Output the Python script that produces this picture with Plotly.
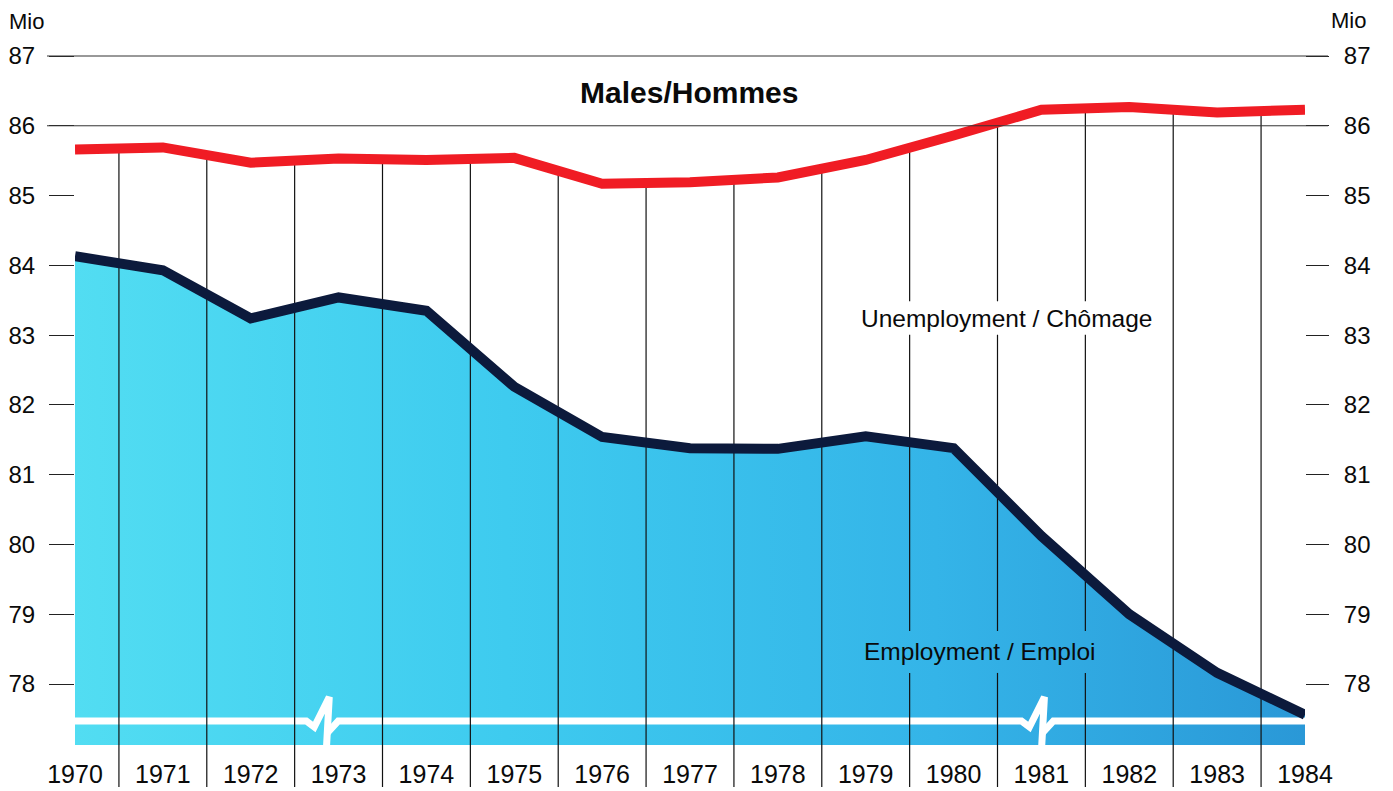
import numpy as np
import plotly.graph_objects as go

# ---------------- data ----------------
years = list(range(1970, 1985))
employment = [84.13, 83.93, 83.24, 83.54, 83.35, 82.26, 81.54, 81.38,
              81.37, 81.55, 81.38, 80.12, 79.00, 78.16, 77.56]
labour_force = [85.66, 85.69, 85.47, 85.53, 85.51, 85.54, 85.17, 85.19,
                85.26, 85.51, 85.86, 86.23, 86.27, 86.19, 86.23]
y_ticks = [78, 79, 80, 81, 82, 83, 84, 85, 86, 87]
year_labels = [str(y) for y in years]
gridline_values = [86, 87]
break_years = [1972.86, 1981.0]      # axis-break symbol centres
break_level = 77.47

title_text = "<b>Males/Hommes</b>"
series_labels = [
    # text, x, y, half-width (years), half-height (value)
    ("Unemployment / Chômage", 1980.60, 83.245, 1.70, 0.24),
    ("Employment / Emploi", 1980.30, 78.459, 1.38, 0.30),
]

# ---------------- geometry helpers ----------------
# the page body has an 8px margin, so the figure is 8px smaller
X_RANGE = [1970, 1984]
Y_RANGE = [77.126, 87.516]
W, H = 1385, 783
ML, MR, MT, MB = 67, 88, 12, 46
plot_w = W - ML - MR
plot_h = H - MT - MB
px_x = (X_RANGE[1] - X_RANGE[0]) / plot_w   # years per pixel
px_y = (Y_RANGE[1] - Y_RANGE[0]) / plot_h   # value per pixel

FONT = "Liberation Sans, Arial, Helvetica, sans-serif"
RED = "#f01c24"
NAVY = "#0c1a3c"
INK = "#0a0a0a"

fig = go.Figure()

# filled employment area with horizontal gradient
fig.add_trace(go.Scatter(
    x=years, y=employment, mode="lines", line=dict(width=0),
    fill="tozeroy",
    fillgradient=dict(type="horizontal",
                      colorscale=[[0, "#52ddf2"], [0.35, "#3ecbef"],
                                  [0.7, "#34b4e8"], [1, "#2a98d7"]]),
    hoverinfo="skip", showlegend=False))

# white axis-break line
bx, by = [X_RANGE[0]], [break_level]
for c in break_years:
    bx += [c - 20 * px_x, c - 12 * px_x, c + 3 * px_x, c]
    by += [break_level, break_level - 6 * px_y, break_level + 24 * px_y,
           break_level - 30 * px_y]
    bx += [None, c + 1 * px_x, c + 12 * px_x]
    by += [None, break_level - 12 * px_y, break_level]
bx.append(X_RANGE[1])
by.append(break_level)
fig.add_trace(go.Scatter(x=bx, y=by, mode="lines",
                         line=dict(color="white", width=7),
                         hoverinfo="skip", showlegend=False))

# vertical separators between years (inside plot)
half_years = [y + 0.5 for y in years[:-1]]
tops = np.interp(half_years, years, labour_force)
vx, vy = [], []
for hx, top in zip(half_years, tops):
    pieces = [(Y_RANGE[0], float(top))]
    for _, lx, ly, hw, hh in series_labels:
        if abs(hx - lx) < hw:
            new = []
            for a, b in pieces:
                if ly + hh <= a or ly - hh >= b:
                    new.append((a, b))
                else:
                    if a < ly - hh:
                        new.append((a, ly - hh))
                    if b > ly + hh:
                        new.append((ly + hh, b))
            pieces = new
    for a, b in pieces:
        vx += [hx, hx, None]
        vy += [a, b, None]
fig.add_trace(go.Scatter(x=vx, y=vy, mode="lines",
                         line=dict(color="#111111", width=1.2),
                         hoverinfo="skip", showlegend=False))

# employment line
fig.add_trace(go.Scatter(x=years, y=employment, mode="lines",
                         line=dict(color=NAVY, width=10),
                         hoverinfo="skip", showlegend=False))
# labour force (employment + unemployment) line
fig.add_trace(go.Scatter(x=years, y=labour_force, mode="lines",
                         line=dict(color=RED, width=10),
                         hoverinfo="skip", showlegend=False))
# invisible trace for the right axis
fig.add_trace(go.Scatter(x=years, y=labour_force, yaxis="y2", mode="lines",
                         opacity=0, hoverinfo="skip", showlegend=False))

shapes = []
for g in gridline_values:
    shapes.append(dict(type="line", xref="paper", yref="y",
                       x0=-28 / plot_w, x1=1 + 23 / plot_w, y0=g, y1=g,
                       line=dict(color="#333333", width=1)))
# separators extending below the plot area
for hx in half_years:
    shapes.append(dict(type="line", xref="x", yref="paper",
                       x0=hx, x1=hx, y0=0, y1=-42 / plot_h,
                       line=dict(color="#111111", width=1.2)))

top_paper = (plot_h + MT) / plot_h
annotations = [
    dict(x=1976.99, y=86.484, xref="x", yref="y", text=title_text,
         showarrow=False, font=dict(size=30, color=INK, family=FONT)),
    dict(x=-68 / plot_w, y=top_paper, xref="paper", yref="paper",
         text="Mio", showarrow=False, xanchor="left", yanchor="top",
         yshift=1, font=dict(size=22, color=INK, family=FONT)),
    dict(x=1 + 24 / plot_w, y=top_paper, xref="paper",
         yref="paper", text="Mio", showarrow=False, xanchor="left",
         yanchor="top", yshift=2, font=dict(size=22, color=INK, family=FONT)),
]
for text, lx, ly, _, _ in series_labels:
    annotations.append(dict(x=lx, y=ly, xref="x", yref="y", text=text,
                            showarrow=False,
                            font=dict(size=24.5, color=INK, family=FONT)))

axis_font = dict(size=24, color=INK, family=FONT)
fig.update_layout(
    template="none",
    width=W, height=H,
    margin=dict(l=ML, r=MR, t=MT, b=MB, pad=0),
    paper_bgcolor="white", plot_bgcolor="white",
    showlegend=False,
    xaxis=dict(range=X_RANGE, tickvals=years, ticktext=year_labels,
               ticks="", showgrid=False, zeroline=False, showline=False,
               automargin=False,
               tickfont=dict(size=25, color=INK, family=FONT),
               ticklabelstandoff=12),
    yaxis=dict(range=Y_RANGE, tickvals=y_ticks, ticks="outside",
               ticklen=25, tickwidth=1, tickcolor="#222",
               showgrid=False, zeroline=False, showline=False,
               automargin=False,
               tickfont=axis_font, ticklabelstandoff=9),
    yaxis2=dict(range=Y_RANGE, overlaying="y", side="right",
                tickvals=y_ticks, ticks="outside", ticklen=23, tickwidth=1,
                tickcolor="#222", showgrid=False, zeroline=False,
                automargin=False,
                showline=False, tickfont=axis_font, ticklabelstandoff=10),
    shapes=shapes, annotations=annotations,
)

fig.write_html("out.html")
